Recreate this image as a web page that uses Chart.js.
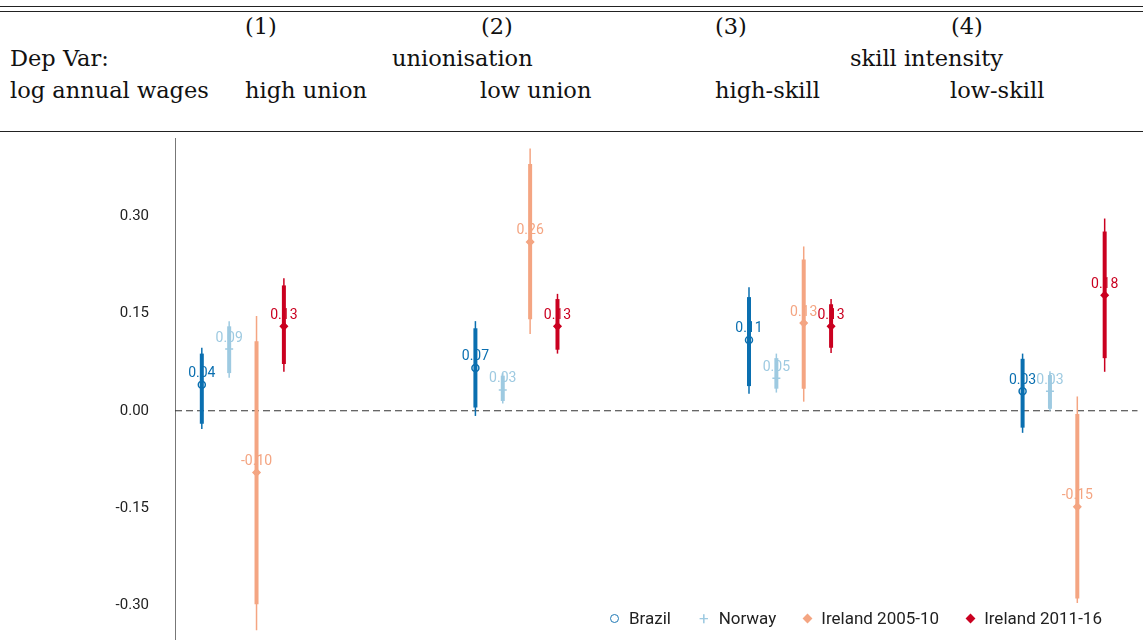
<!DOCTYPE html>
<html><head><meta charset="utf-8">
<script src="https://cdn.jsdelivr.net/npm/chart.js@4"></script>
<style>
body{margin:0;width:1143px;height:640px;overflow:hidden;background:#fff;position:relative;font-family:"DejaVu Serif",serif}
.t{position:absolute;font-size:22.5px;color:#111;white-space:nowrap}
.hl{position:absolute;left:0;width:1143px;border-top:1.3px solid #222}
#c{position:absolute;left:0;top:103px}
#leg{position:absolute;top:608px;left:610px;font-family:Roboto,sans-serif;font-size:17px;color:#222;display:flex}
#leg span{margin-right:28px;display:flex;align-items:center}
#leg i{display:inline-block;margin-right:10px;font-style:normal}
</style></head><body>
<div class="hl" style="top:6px"></div><div class="hl" style="top:11px"></div><div class="hl" style="top:131px"></div>
<div class="t" style="left:245px;top:13px">(1)</div>
<div class="t" style="left:481px;top:13px">(2)</div>
<div class="t" style="left:715px;top:13px">(3)</div>
<div class="t" style="left:951px;top:13px">(4)</div>
<div class="t" style="left:10px;top:45px">Dep Var:</div>
<div class="t" style="left:392px;top:45px">unionisation</div>
<div class="t" style="left:850px;top:45px">skill intensity</div>
<div class="t" style="left:10px;top:77px">log annual wages</div>
<div class="t" style="left:245px;top:77px">high union</div>
<div class="t" style="left:480px;top:77px">low union</div>
<div class="t" style="left:715px;top:77px">high-skill</div>
<div class="t" style="left:950px;top:77px">low-skill</div>
<canvas id="c" width="1143" height="572"></canvas>
<div id="leg">
<span><i style="width:7px;height:7px;border:1.5px solid #1f78b4;border-radius:50%"></i>Brazil</span>
<span><i style="color:#9ecae1">+</i>Norway</span>
<span><i style="width:7px;height:7px;background:#f4a582;transform:rotate(45deg)"></i>Ireland 2005-10</span>
<span><i style="width:7px;height:7px;background:#ca0020;transform:rotate(45deg)"></i>Ireland 2011-16</span>
</div>
<script>
const groups=[1,2,3,4];
const seriesNames=["Brazil","Norway","Ireland 2005-10","Ireland 2011-16"];
const offsets=[-0.15,-0.05,0.05,0.15];
const colors=["#0a6fb0","#9ecae1","#f4a582","#ca0020"];
const shapes=["circle","cross","rectRot","rectRot"];
const est=[[0.04,0.066,0.109,0.03],[0.095,0.032,0.05,0.03],[-0.095,0.26,0.135,-0.148],[0.13,0.13,0.13,0.178]];
const labels=[["0.04","0.07","0.11","0.03"],["0.09","0.03","0.05","0.03"],["-0.10","0.26","0.13","-0.15"],["0.13","0.13","0.13","0.18"]];
const ci90lo=[[-0.02,0.005,0.038,-0.026],[0.058,0.015,0.034,0.003],[-0.298,0.141,0.034,-0.289],[0.072,0.094,0.097,0.081]];
const ci90hi=[[0.088,0.127,0.175,0.08],[0.13,0.054,0.081,0.055],[0.107,0.38,0.233,-0.005],[0.193,0.172,0.164,0.276]];
const ci95lo=[[-0.028,-0.008,0.026,-0.034],[0.051,0.011,0.028,0.0],[-0.338,0.118,0.014,-0.296],[0.06,0.088,0.089,0.06]];
const ci95hi=[[0.097,0.138,0.19,0.088],[0.138,0.058,0.088,0.061],[0.146,0.404,0.253,0.022],[0.204,0.18,0.172,0.296]];
const yTicks=[-0.30,-0.15,0,0.15,0.30];

const datasets=seriesNames.map((n,s)=>({label:n,
 data:groups.map((g,i)=>({x:g+offsets[s],y:est[s][i]})),
 pointStyle:shapes[s],borderColor:colors[s],backgroundColor:s===0?'rgba(0,0,0,0)':colors[s],
 pointRadius:s===1?4:3.5,borderWidth:1.5,showLine:false}));

const bars={id:'bars',beforeDatasetsDraw(ch){
 const {ctx,scales:{x,y}}=ch;
 ctx.save();
 ctx.setLineDash([7,4]);ctx.strokeStyle='#333';ctx.lineWidth=1;
 ctx.beginPath();ctx.moveTo(x.left,y.getPixelForValue(0));ctx.lineTo(x.right,y.getPixelForValue(0));ctx.stroke();
 ctx.setLineDash([]);
 seriesNames.forEach((n,s)=>groups.forEach((g,i)=>{
  const px=x.getPixelForValue(g+offsets[s]);
  ctx.strokeStyle=colors[s];
  ctx.lineWidth=1.5;ctx.beginPath();ctx.moveTo(px,y.getPixelForValue(ci95lo[s][i]));ctx.lineTo(px,y.getPixelForValue(ci95hi[s][i]));ctx.stroke();
  ctx.lineWidth=4;ctx.beginPath();ctx.moveTo(px,y.getPixelForValue(ci90lo[s][i]));ctx.lineTo(px,y.getPixelForValue(ci90hi[s][i]));ctx.stroke();
 }));
 ctx.restore();
},afterDatasetsDraw(ch){
 const {ctx,scales:{x,y}}=ch;
 ctx.save();ctx.font='14px Roboto';ctx.textAlign='center';ctx.textBaseline='middle';
 seriesNames.forEach((n,s)=>groups.forEach((g,i)=>{
  ctx.fillStyle=colors[s];
  ctx.fillText(labels[s][i],x.getPixelForValue(g+offsets[s]),y.getPixelForValue(est[s][i])-11);
 }));
 ctx.restore();
}};

new Chart(document.getElementById('c'),{type:'scatter',data:{datasets},
 options:{responsive:false,animation:false,devicePixelRatio:1,
 layout:{padding:0},
 plugins:{legend:{display:false},tooltip:{enabled:false}},
 scales:{
  x:{type:'linear',min:0.752,max:4.27,display:false},
  y:{min:-0.353,max:0.42,afterFit(a){a.width=175;},
   afterBuildTicks(a){a.ticks=yTicks.map(v=>({value:v}));},
   grid:{display:false,drawTicks:false},border:{color:'#777',width:1},
   ticks:{padding:26,color:'#222',font:{family:'Roboto',size:15},callback:v=>v.toFixed(2)}}
 }},plugins:[bars]});
</script>
</body></html>
